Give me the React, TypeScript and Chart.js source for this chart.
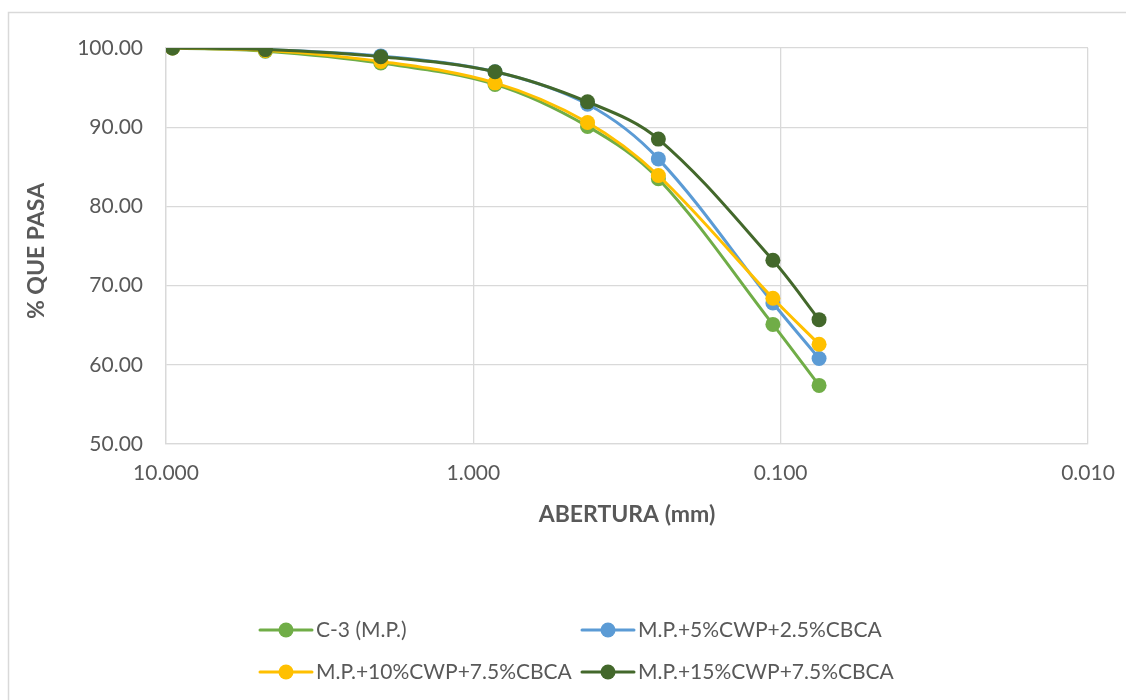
import React, { useEffect, useRef } from "react";
import { Chart, registerables } from "chart.js";

Chart.register(...registerables);

const sieveSizes = [9.525, 4.75, 2.0, 0.85, 0.425, 0.25, 0.106, 0.075];
const xTickValues = [10, 1, 0.1, 0.01];
const seriesNames = [
  "C-3 (M.P.)",
  "M.P.+5%CWP+2.5%CBCA",
  "M.P.+10%CWP+7.5%CBCA",
  "M.P.+15%CWP+7.5%CBCA",
];
const c3Values = [100, 99.6, 98.1, 95.4, 90.1, 83.5, 65.1, 57.4];
const mp5Values = [100, 99.8, 99.0, 97.0, 92.9, 86.0, 67.8, 60.8];
const mp10Values = [100, 99.7, 98.3, 95.6, 90.6, 83.9, 68.4, 62.6];
const mp15Values = [100, 99.8, 98.9, 97.0, 93.2, 88.5, 73.2, 65.7];
const seriesColors = ["#70AD47", "#5B9BD5", "#FFC000", "#43682B"];

const FONT = 'Lato, "Open Sans", sans-serif';
const TEXT_COLOR = "#595959";
const GRID_COLOR = "#d9d9d9";

const W = 1126;
const H = 700;

const decorPlugin = {
  id: "decor",
  beforeDraw(chart: any) {
    const ctx = chart.ctx;
    ctx.save();
    ctx.fillStyle = "#ffffff";
    ctx.fillRect(0, 0, W, H);
    ctx.strokeStyle = GRID_COLOR;
    ctx.lineWidth = 1.5;
    ctx.strokeRect(8.5, 12.5, 1300, 900);
    ctx.restore();
  },
  afterDraw(chart: any) {
    const ctx = chart.ctx;
    ctx.save();
    ctx.fillStyle = TEXT_COLOR;
    ctx.font = `bold 23px ${FONT}`;
    ctx.textAlign = "center";
    ctx.textBaseline = "middle";
    ctx.fillText("ABERTURA (mm)", 627, 515);
    ctx.translate(37, 251);
    ctx.rotate(-Math.PI / 2);
    ctx.fillText("% QUE PASA", 0, 0);
    ctx.restore();

    // legend
    const items = [
      { x: 258, y: 630 },
      { x: 580, y: 630 },
      { x: 258, y: 672 },
      { x: 580, y: 672 },
    ];
    ctx.save();
    ctx.font = `21px ${FONT}`;
    ctx.textBaseline = "middle";
    ctx.textAlign = "left";
    items.forEach((it, i) => {
      const ds = chart.data.datasets[i];
      ctx.strokeStyle = ds.borderColor;
      ctx.lineWidth = 3;
      ctx.lineCap = "round";
      ctx.beginPath();
      ctx.moveTo(it.x + 2, it.y);
      ctx.lineTo(it.x + 54, it.y);
      ctx.stroke();
      ctx.fillStyle = ds.backgroundColor;
      ctx.beginPath();
      ctx.arc(it.x + 28, it.y, 7.5, 0, Math.PI * 2);
      ctx.fill();
      ctx.fillStyle = TEXT_COLOR;
      ctx.fillText(ds.label, it.x + 58, it.y);
    });
    ctx.restore();
  },
};

export default function App() {
  const canvasRef = useRef<HTMLCanvasElement | null>(null);

  useEffect(() => {
    const canvas = canvasRef.current;
    if (!canvas) return;
    const allValues = [c3Values, mp5Values, mp10Values, mp15Values];
    const datasets = allValues.map((vals, i) => ({
      label: seriesNames[i],
      data: sieveSizes.map((s, j) => ({ x: s, y: vals[j] })),
      borderColor: seriesColors[i],
      backgroundColor: seriesColors[i],
      pointBackgroundColor: seriesColors[i],
      pointBorderColor: seriesColors[i],
      pointRadius: 7.5,
      pointBorderWidth: 0,
      borderWidth: 3,
      showLine: true,
      tension: 0.35,
      order: 4 - i,
    }));

    const chart = new Chart(canvas, {
      type: "scatter",
      data: { datasets },
      plugins: [decorPlugin],
      options: {
        responsive: false,
        animation: false,
        devicePixelRatio: 1,
        layout: { padding: { left: 0, top: 48, right: 38, bottom: 156 } },
        plugins: {
          legend: { display: false },
          tooltip: { enabled: false },
        },
        scales: {
          x: {
            type: "logarithmic",
            reverse: true,
            min: 0.01,
            max: 10,
            afterBuildTicks: (scale: any) => {
              scale.ticks = xTickValues.map((v) => ({ value: v }));
            },
            afterFit: (scale: any) => {
              scale.height = 100;
              scale.paddingLeft = 0;
              scale.paddingRight = 0;
            },
            grid: { color: GRID_COLOR, drawTicks: false, lineWidth: 1.3 },
            border: { color: GRID_COLOR, width: 1.3 },
            ticks: {
              color: TEXT_COLOR,
              font: { family: FONT, size: 21 },
              padding: 17,
              autoSkip: false,
              maxRotation: 0,
              callback: (v: any) => Number(v).toFixed(3),
            },
          },
          y: {
            min: 50,
            max: 100,
            afterFit: (scale: any) => {
              scale.width = 166;
              scale.paddingTop = 0;
              scale.paddingBottom = 0;
            },
            grid: { color: GRID_COLOR, drawTicks: false, lineWidth: 1.3 },
            border: { color: GRID_COLOR, width: 1.3 },
            ticks: {
              stepSize: 10,
              color: TEXT_COLOR,
              font: { family: FONT, size: 21 },
              padding: 23,
              callback: (v: any) => Number(v).toFixed(2),
            },
          },
        },
      },
    } as any);
    return () => chart.destroy();
  }, []);

  return (
    <div style={{ position: "absolute", left: 0, top: 0, width: W, height: H, background: "#fff" }}>
      <canvas ref={canvasRef} width={W} height={H} style={{ display: "block" }} />
    </div>
  );
}
